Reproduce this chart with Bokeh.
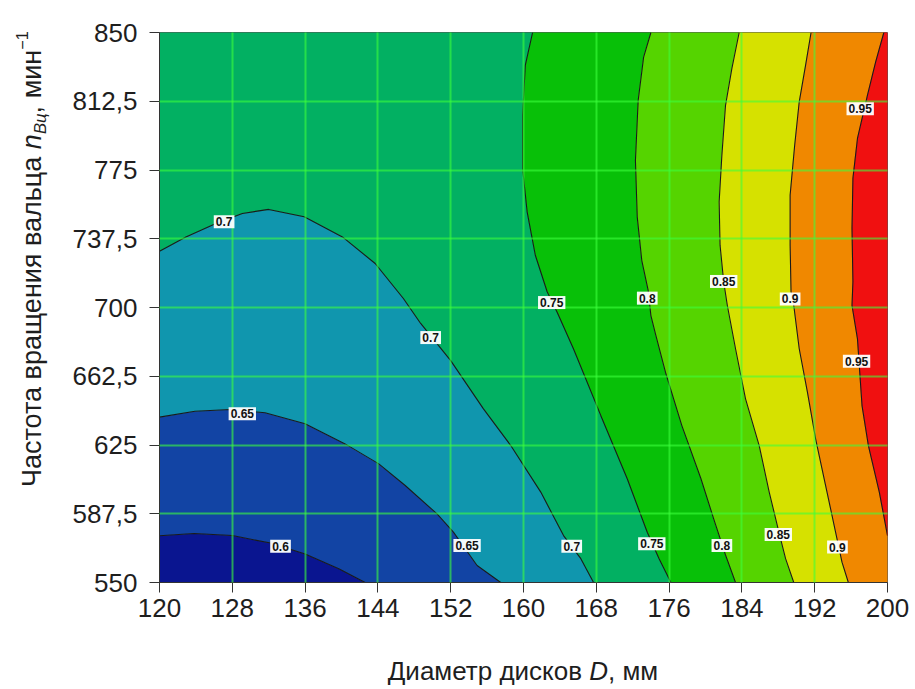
from bokeh.plotting import figure
from bokeh.models import Range1d, FixedTicker, Label, Div
from bokeh.layouts import column, row
from bokeh.embed import file_html
from bokeh.resources import INLINE

# ---------------- data ----------------
x_ticks = [120, 128, 136, 144, 152, 160, 168, 176, 184, 192, 200]
y_ticks = [550, 587.5, 625, 662.5, 700, 737.5, 775, 812.5, 850]
y_tick_labels = ["550", "587,5", "625", "662,5", "700", "737,5", "775", "812,5", "850"]

x_title = 'Диаметр дисков <i>D</i>, мм'
y_title = ('Частота вращения вальца <i>n</i>'
           '<sub style="font-size:0.62em;line-height:0;vertical-align:-0.3em"><i>Вц</i></sub>'
           ', мин<sup style="font-size:0.6em;line-height:0;vertical-align:0.8em">−1</sup>')

levels = [0.6, 0.65, 0.7, 0.75, 0.8, 0.85, 0.9, 0.95]
band_colors = ["#0a1590", "#1244a4", "#1096ae", "#02b062", "#08c008",
               "#55d400", "#d6e100", "#f08800", "#f01010"]

# contour lines (D, n)
c060_D = [120.0, 123.8, 128.0, 132.2, 136.0, 139.7, 142.6]
c060_n = [575.5, 576.7, 575.6, 571.5, 565.6, 557.5, 550.0]

c065_D = [120.0, 123.9, 127.8, 131.6, 136.0, 140.4, 144.1, 147.0, 150.5, 152.3, 154.9, 157.5]
c065_n = [640.2, 643.4, 644.4, 642.6, 636.6, 625.6, 614.7, 602.9, 587.4, 577.5, 559.3, 550.0]

c070_D = [120.0, 122.9, 126.2, 129.1, 132.0, 135.9, 140.1, 143.7, 146.8, 148.7, 152.0,
          155.6, 158.6, 161.9, 164.4, 166.3, 167.7]
c070_n = [730.7, 738.5, 745.8, 751.3, 753.5, 749.5, 738.5, 724.0, 704.9, 691.3, 671.0,
          644.7, 624.7, 599.3, 575.6, 563.0, 550.0]

c075_D = [161.0, 160.2, 159.9, 159.9, 160.4, 161.3, 162.6, 163.7, 165.5, 168.5, 171.4,
          173.6, 174.9, 176.2]
c075_n = [850.0, 832.2, 804.9, 775.8, 752.2, 728.5, 708.6, 697.4, 677.4, 641.0, 606.6,
          577.4, 563.0, 550.0]

c080_D = [174.0, 173.2, 172.6, 172.3, 172.5, 173.0, 173.7, 174.0, 174.5, 175.6, 177.4,
          179.5, 180.9, 182.2, 183.3]
c080_n = [850.0, 836.6, 812.9, 780.2, 749.3, 725.6, 709.3, 695.6, 685.6, 664.7, 635.6,
          606.6, 584.7, 565.0, 550.0]

c085_D = [183.7, 182.9, 182.2, 181.8, 181.5, 181.6, 182.0, 182.4, 183.3, 184.4, 185.9,
          187.0, 188.1, 188.8, 189.7]
c085_n = [850.0, 830.4, 810.3, 783.1, 757.6, 734.0, 714.0, 701.1, 677.5, 650.2, 624.7,
          599.3, 576.8, 563.0, 550.0]

c090_D = [191.6, 191.0, 190.3, 189.8, 189.3, 189.3, 189.4, 189.7, 190.3, 191.2, 192.1,
          193.2, 194.3, 195.0, 195.7]
c090_n = [850.0, 832.2, 812.2, 788.5, 761.3, 734.0, 708.6, 701.1, 677.5, 653.8, 628.4,
          602.9, 577.4, 561.1, 550.0]

c095_D = [199.6, 198.7, 197.8, 196.7, 196.2, 196.1, 196.2, 196.1, 196.7, 197.2, 197.9,
          199.1, 200.0]
c095_n = [850.0, 834.0, 815.8, 792.2, 770.4, 743.1, 714.0, 701.1, 682.9, 646.5, 624.7,
          599.3, 575.6]

# contour label positions (D, n) and texts
lab_D = [127.1, 149.8, 165.3, 129.1, 153.8, 133.3, 163.1, 174.1, 173.6, 181.8,
         182.0, 188.0, 189.3, 194.5, 197.0, 196.6]
lab_n = [746.8, 683.6, 569.8, 642.0, 570.2, 569.8, 702.7, 571.1, 705.1, 570.2,
         714.2, 576.2, 704.7, 569.3, 808.4, 670.7]
lab_t = ["0.7", "0.7", "0.7", "0.65", "0.65", "0.6", "0.75", "0.75", "0.8", "0.8",
         "0.85", "0.85", "0.9", "0.9", "0.95", "0.95"]

# ---------------- figure ----------------
D_MIN, D_MAX = x_ticks[0], x_ticks[-1]
N_MIN, N_MAX = y_ticks[0], y_ticks[-1]

FONT = "'Liberation Sans', Arial, sans-serif"
TXT = "#1e1e1e"

p = figure(width=852, height=642, output_backend="svg", toolbar_location=None,
           x_range=Range1d(D_MIN, D_MAX), y_range=Range1d(N_MIN, N_MAX),
           min_border_left=99, min_border_right=25, min_border_top=32,
           min_border_bottom=60)
p.background_fill_color = "white"
p.border_fill_color = "white"
p.outline_line_color = "#555555"
p.outline_line_width = 1

# band polygons built from the contour lines
band_xs = [
    c060_D + [D_MIN],
    c065_D + c060_D[::-1],
    c070_D + c065_D[::-1],
    c075_D + c070_D[::-1] + [D_MIN],
    c080_D + c075_D[::-1],
    c085_D + c080_D[::-1],
    c090_D + c085_D[::-1],
    c095_D + [D_MAX] + c090_D[::-1],
    c095_D + [D_MAX],
]
band_ys = [
    c060_n + [N_MIN],
    c065_n + c060_n[::-1],
    c070_n + c065_n[::-1],
    c075_n + c070_n[::-1] + [N_MAX],
    c080_n + c075_n[::-1],
    c085_n + c080_n[::-1],
    c090_n + c085_n[::-1],
    c095_n + [N_MIN] + c090_n[::-1],
    c095_n + [N_MAX],
]
p.patches(band_xs, band_ys, fill_color=band_colors, line_color=band_colors,
          line_width=0.5)

for cx, cy in [(c060_D, c060_n), (c065_D, c065_n), (c070_D, c070_n), (c075_D, c075_n),
               (c080_D, c080_n), (c085_D, c085_n), (c090_D, c090_n), (c095_D, c095_n)]:
    p.line(cx, cy, line_color="#1a1a1a", line_width=1.1)

# grid
p.xgrid.ticker = FixedTicker(ticks=x_ticks)
p.ygrid.ticker = FixedTicker(ticks=y_ticks)
for g in (p.xgrid, p.ygrid):
    g.grid_line_color = "#3cff3c"
    g.grid_line_alpha = 0.6
    g.grid_line_width = 2
    g.level = "guide"

# axes
p.xaxis.ticker = FixedTicker(ticks=x_ticks)
p.yaxis.ticker = FixedTicker(ticks=y_ticks)
p.yaxis.major_label_overrides = {t: s for t, s in zip(y_ticks, y_tick_labels)}
for ax in (p.xaxis, p.yaxis):
    ax.major_label_text_font = FONT
    ax.major_label_text_font_size = "26px"
    ax.major_label_text_color = TXT
    ax.major_tick_out = 10
    ax.major_tick_in = 0
    ax.minor_tick_line_color = None
    ax.major_tick_line_color = "#333333"
    ax.axis_line_color = "#333333"
p.xaxis.major_label_standoff = 6
p.yaxis.major_label_standoff = 12

# contour labels
for d, n, t in zip(lab_D, lab_n, lab_t):
    p.add_layout(Label(x=d, y=n, text=t, text_align="center", text_baseline="middle",
                       text_font="Liberation Sans", text_font_size="12px",
                       text_font_style="bold", text_color="#111111",
                       background_fill_color="white", background_fill_alpha=0.95,
                       padding=2))

# axis titles (HTML so that italics / sub / superscripts are real text)
ydiv = Div(width=60, height=642, margin=0,
           text=('<div style="position:absolute;left:19px;top:487px;width:520px;'
                 'transform-origin:0 0;transform:rotate(-90deg);white-space:nowrap;'
                 f'font-family:{FONT};font-size:27px;line-height:1;color:{TXT};">'
                 + y_title + '</div>'))
xdiv = Div(width=912, height=44, margin=0,
           text=('<div style="position:absolute;left:159px;top:16px;width:728px;'
                 'text-align:center;white-space:nowrap;'
                 f'font-family:{FONT};font-size:26px;line-height:1;color:{TXT};">'
                 + x_title + '</div>'))

layout = column(row(ydiv, p, spacing=0), xdiv, spacing=0)
open("out.html", "w").write(file_html(layout, INLINE))
